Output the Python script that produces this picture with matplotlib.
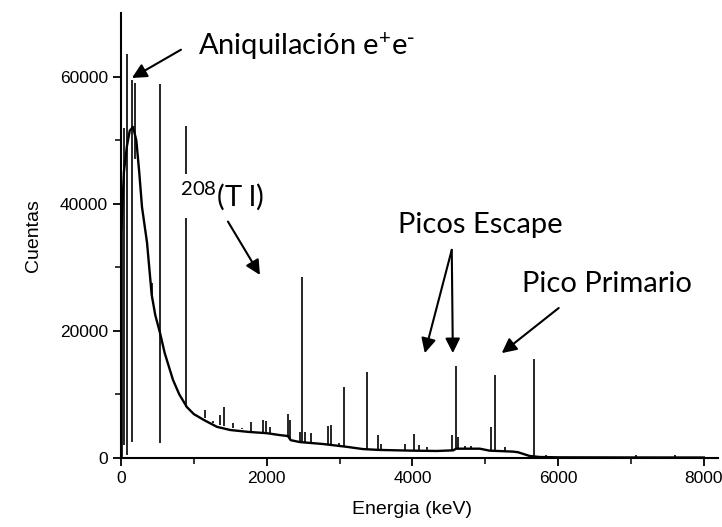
import numpy as np
import matplotlib
matplotlib.use('Agg')
from matplotlib import pyplot as plt

plt.rcParams['mathtext.default'] = 'regular'

# continuum (keV, counts)
cont_e = [5, 40, 80, 120, 165, 210, 250, 288, 357, 421, 470, 535, 600, 713,
          800, 905, 1000, 1150, 1317, 1500, 1750, 2000, 2180, 2290, 2330,
          2455, 2770, 3100, 3320, 3550, 4000, 4335, 4560, 4600, 4925, 5060,
          5380, 5450, 5610, 5750, 6000, 7000, 8000]
cont_c = [36000, 45000, 49000, 51500, 52100, 50000, 45000, 39500, 33900,
          25700, 22500, 19700, 16500, 12300, 10000, 8000, 6900, 5900, 4900,
          4400, 4100, 3900, 3600, 3450, 2800, 2500, 2200, 1750, 1400, 1260,
          1150, 1100, 1200, 1460, 1460, 1150, 1000, 900, 310, 150, 100, 80, 70]

# peaks: energy, bottom, top
peak_e = [20, 45, 85, 150, 190, 421, 530, 893,
          1152, 1266, 1358, 1417, 1541, 1655, 1779, 1952, 1985, 2044,
          2295, 2325, 2455, 2487, 2520, 2606, 2835, 2877, 2987, 3059, 3370,
          3521, 3562, 3896, 4019, 4092, 4206, 4550, 4595, 4632, 4720, 4800,
          5080, 5130, 5277, 5665, 5830, 7074, 7610]
peak_lo = [0, 2000, 400, 2500, 47000, 25000, 2400, 8000,
           6300, 5800, 5200, 5000, 4700, 4500, 4300, 4100, 4000, 3950,
           3450, 2800, 2500, 2500, 2450, 2400, 2150, 2100, 1950, 1850, 1420,
           1250, 1240, 1150, 1150, 1140, 1120, 1200, 1460, 1460, 1460, 1460,
           1150, 1150, 1000, 300, 120, 80, 70]
peak_hi = [42700, 52000, 63500, 59500, 59000, 27500, 58900, 52300,
           7560, 5500, 6770, 7980, 5460, 4780, 5620, 5980, 5800, 4800,
           6880, 5980, 4100, 28450, 4100, 3940, 5040, 5250, 2400, 11130, 13540,
           3620, 2180, 2200, 3780, 2000, 1700, 3570, 14540, 3260, 1900, 1900,
           4830, 13020, 1800, 15540, 520, 500, 450]

fig = plt.figure(figsize=(7.22, 5.27), dpi=100)
ax = fig.add_axes([0.1676, 0.131, 0.8264, 0.844])

ax.plot(cont_e, cont_c, color='black', lw=1.7)
ax.vlines(peak_e, peak_lo, peak_hi, color='black', lw=1.2)

ax.set_xlim(0, 8190)
ax.set_ylim(0, 70000)
ax.set_xticks([0, 2000, 4000, 6000, 8000])
ax.set_yticks([0, 20000, 40000, 60000])
ax.set_xticks(np.arange(1000, 8001, 2000), minor=True)
ax.set_yticks([10000, 30000, 50000], minor=True)
for s in ['top', 'right']:
    ax.spines[s].set_visible(False)
for s in ['left', 'bottom']:
    ax.spines[s].set_linewidth(1.5)
ax.tick_params(which='major', direction='out', length=6, width=1.3,
               labelsize=12.5)
ax.tick_params(which='minor', direction='out', length=4, width=1.1)
for lab in ax.get_xticklabels() + ax.get_yticklabels():
    lab.set_family('Liberation Sans')

ax.set_xlabel('Energia (keV)', family='Liberation Sans', fontsize=14)
ax.set_ylabel('Cuentas', family='Liberation Sans', fontsize=14)
ax.xaxis.set_label_coords(0.487, -0.097)
ax.yaxis.set_label_coords(-0.133, 0.5)

afont = dict(family='Lato', fontsize=21, color='black')
arr = dict(arrowstyle='-|>', color='black', lw=1.5, mutation_scale=22,
           shrinkA=0, shrinkB=0)

ax.text(1056, 63460, r'Aniquilación e$^{+}$e$^{\text{-}}$', va='baseline',
        **afont)
ax.annotate('', xy=(150, 59800), xytext=(823, 64250), arrowprops=arr)

ax.text(810, 39690, '$^{208}$(T l)', va='baseline',
        bbox=dict(facecolor='white', edgecolor='none', pad=4), **afont)
ax.annotate('', xy=(1907, 28800), xytext=(1468, 37200), arrowprops=arr)

ax.text(3800, 35430, 'Picos Escape', va='baseline', **afont)
ax.annotate('', xy=(4170, 16500), xytext=(4540, 32750), arrowprops=arr)
ax.annotate('', xy=(4555, 16500), xytext=(4540, 32750), arrowprops=arr)

ax.text(5500, 26140, 'Pico Primario', va='baseline', **afont)
ax.annotate('', xy=(5226, 16500), xytext=(6008, 23600), arrowprops=arr)

fig.savefig('out.png', dpi=100)
